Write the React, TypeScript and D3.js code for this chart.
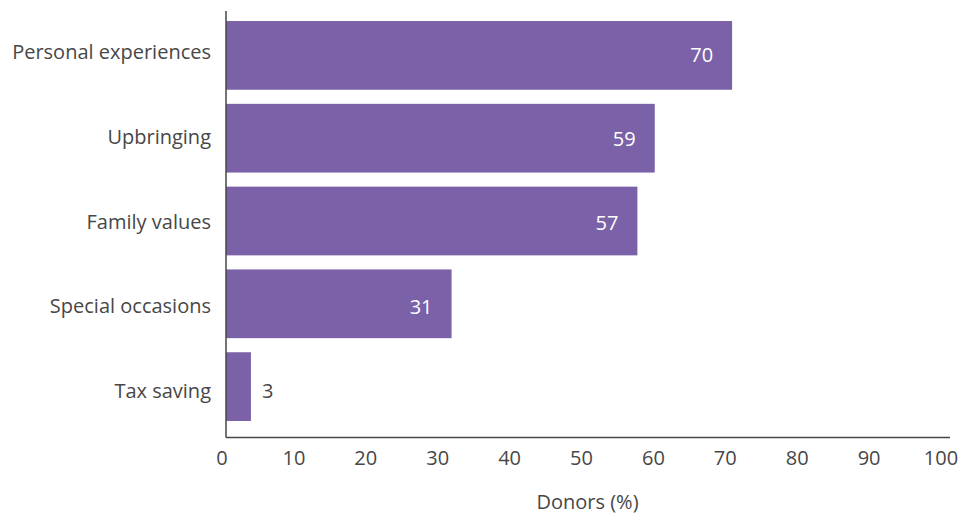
import React from "react";
import * as d3 from "d3";

const categories = ["Personal experiences", "Upbringing", "Family values", "Special occasions", "Tax saving"];
const values = [70.0, 59.3, 56.9, 31.2, 3.45];
const xTicks = [0, 10, 20, 30, 40, 50, 60, 70, 80, 90, 100];
const xTitle = "Donors (%)";

const W = 973;
const H = 515;
const FONT = "'Open Sans', 'Noto Sans', sans-serif";
const BAR = "#7A61A8";
const TEXT = "#474747";

export default function App() {
  const x = d3.scaleLinear().domain([0, 100]).range([226, 949]);
  const xLab = d3.scaleLinear().domain([0, 100]).range([222, 941]);
  const y = d3.scaleBand<string>().domain(categories).range([14, 428]).paddingInner(0.17).paddingOuter(0.085);
  const yLab = d3.scalePoint<string>().domain(categories).range([52, 391]);
  const yVal = d3.scalePoint<string>().domain(categories).range([55, 390.5]);
  const axisY = 437.5;

  return (
    <svg width={W} height={H} style={{ position: "absolute", left: 0, top: 0, background: "#fff" }}>
      {categories.map((c, i) => {
        const v = values[i];
        const x1 = x(v);
        const yy = (y(c) as number);
        const bw = y.bandwidth();
        const inside = x1 - x(0) > 60;
        return (
          <g key={c}>
            <rect x={x(0)} y={yy} width={x1 - x(0)} height={bw} fill={BAR} />
            <text
              x={inside ? x1 - 19 : x1 + 11}
              y={(yVal(c) as number) + 7}
              textAnchor={inside ? "end" : "start"}
              fill={inside ? "#ffffff" : TEXT}
              fontFamily={FONT}
              fontSize={20}
            >
              {Math.round(v)}
            </text>
            <text
              x={211}
              y={(yLab(c) as number) + 7}
              textAnchor="end"
              fill={TEXT}
              fontFamily={FONT}
              fontSize={20}
            >
              {c}
            </text>
          </g>
        );
      })}
      <line x1={226} x2={226} y1={11} y2={axisY} stroke={TEXT} strokeWidth={1.5} />
      <line x1={226} x2={950} y1={axisY} y2={axisY} stroke={TEXT} strokeWidth={1.5} />
      {xTicks.map((t) => (
        <text key={t} x={xLab(t)} y={465} textAnchor="middle" fill={TEXT} fontFamily={FONT} fontSize={20}>
          {t}
        </text>
      ))}
      <text x={587.5} y={509} textAnchor="middle" fill={TEXT} fontFamily={FONT} fontSize={20}>
        {xTitle}
      </text>
    </svg>
  );
}
